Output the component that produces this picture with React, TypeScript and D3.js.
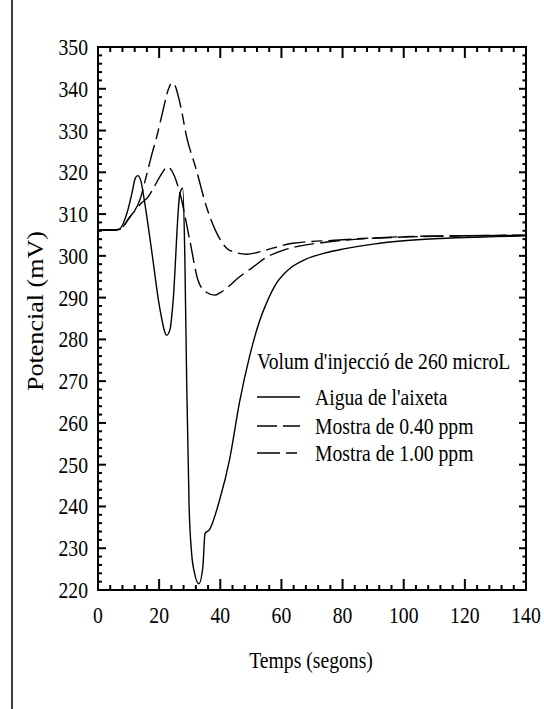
import React from "react";
import * as d3 from "d3";

// Axis tick values
const xTickLabels = [0, 20, 40, 60, 80, 100, 120, 140];
const yTickLabels = [220, 230, 240, 250, 260, 270, 280, 290, 300, 310, 320, 330, 340, 350];

// Aigua de l'aixeta (solid)
const aiguaTime = [0, 5, 7, 9.5, 11.1, 12.2, 13, 14, 15.3, 17.5, 20.2, 22.5, 23.6, 24.5, 26.8, 27.7, 28.4, 29, 29.8, 30.6, 31.6, 33, 34.3, 35, 36.5, 39.8, 43, 46.3, 49.6, 52.9, 55, 58, 62, 68, 75, 80, 90, 100, 110, 120, 130, 140];
const aiguaValue = [306.2, 306.2, 306.4, 310.3, 315, 318.6, 319.2, 318, 312.6, 301.5, 287.5, 281, 282.5, 288.5, 315, 316.2, 300, 270, 240, 229, 224, 221.5, 225.5, 233.5, 234.5, 241.6, 251.1, 265, 276, 284.5, 288.5, 293, 296.5, 299.2, 300.8, 301.6, 302.8, 303.6, 304.1, 304.4, 304.6, 304.8];

// Mostra de 0.40 ppm (dashed)
const mostra040Time = [0, 5, 7, 10.4, 14.3, 16.3, 18.2, 20.2, 22.8, 24, 26.8, 30, 32.7, 35, 38.2, 40, 42.5, 46, 50.7, 55, 60, 65, 75, 85, 100, 120, 140];
const mostra040Value = [306.2, 306.2, 306.3, 309.3, 312.7, 314, 316.3, 318.9, 321.3, 320.5, 315, 303.8, 294.2, 291.5, 290.6, 291.2, 292.5, 294.8, 297.3, 299.6, 301.2, 302.2, 303.3, 304, 304.5, 304.8, 304.9];

// Mostra de 1.00 ppm (long-short dash)
const mostra100Time = [0, 5, 7, 10.4, 13.7, 15.9, 17.5, 19.2, 21, 23, 24.1, 25, 26.8, 29, 32.2, 35.5, 38.8, 42, 45, 48.6, 52, 55, 63.7, 79, 90, 100, 120, 140];
const mostra100Value = [306.2, 306.2, 306.3, 309.3, 313.4, 319.4, 324, 328.5, 334, 339.8, 341.4, 341, 336.6, 328.5, 320.5, 311.7, 305.5, 301.9, 300.8, 300.4, 300.8, 301.4, 303, 303.8, 304.3, 304.6, 304.8, 305];

const legendTitle = "Volum d'injecció de 260 microL";
const seriesNames = ["Aigua de l'aixeta", "Mostra de 0.40 ppm", "Mostra de 1.00 ppm"];
const seriesDash = ["", "20,6", "23,6,11,6"];

const FONT = "'Liberation Serif', 'DejaVu Serif', serif";
const squeeze = (origin: string): React.CSSProperties => ({
  transformBox: "fill-box",
  transformOrigin: origin,
  transform: "scaleX(0.82)",
});

export default function App() {
  const W = 544;
  const H = 709;
  const left = 98, right = 526, top = 47, bottom = 590;

  const x = d3.scaleLinear().domain([0, 140]).range([left, right]);
  const y = d3.scaleLinear().domain([220, 350]).range([bottom, top]);

  const line = d3
    .line<[number, number]>()
    .x((d) => x(d[0]))
    .y((d) => y(d[1]))
    .curve(d3.curveMonotoneX);

  const series = [
    { t: aiguaTime, v: aiguaValue },
    { t: mostra040Time, v: mostra040Value },
    { t: mostra100Time, v: mostra100Value },
  ].map((s, i) => ({
    path: line(s.t.map((t, k) => [t, s.v[k]] as [number, number])) || "",
    dash: seriesDash[i],
    name: seriesNames[i],
  }));

  const xMinor = d3.range(0, 141, 4).filter((v) => v % 20 !== 0);
  const yMinor = d3.range(220, 351, 2).filter((v) => v % 10 !== 0);

  const legendX = 257;
  const legendRows = [397, 426, 453];

  return (
    <svg
      width={W}
      height={H}
      style={{ position: "absolute", left: 0, top: 0, background: "#fff" }}
      fontFamily={FONT}
    >
      <rect x={0} y={0} width={W} height={H} fill="#fff" />
      <line x1={12} x2={12} y1={0} y2={H} stroke="#000" strokeWidth={1.5} />

      {/* data lines */}
      {series.map((s, i) => (
        <path
          key={i}
          d={s.path}
          fill="none"
          stroke="#000"
          strokeWidth={1.4}
          strokeDasharray={s.dash || undefined}
        />
      ))}

      {/* frame */}
      <rect x={left} y={top} width={right - left} height={bottom - top} fill="none" stroke="#000" strokeWidth={2} />

      {/* x ticks, bottom and top, pointing inward */}
      {xTickLabels.map((v) => (
        <g key={"xM" + v}>
          <line x1={x(v)} x2={x(v)} y1={bottom} y2={bottom - 11} stroke="#000" strokeWidth={2} />
          <line x1={x(v)} x2={x(v)} y1={top} y2={top + 11} stroke="#000" strokeWidth={2} />
          <text x={x(v)} y={623} fontSize={24} textAnchor="middle" style={squeeze("center")}>
            {v}
          </text>
        </g>
      ))}
      {xMinor.map((v) => (
        <g key={"xm" + v}>
          <line x1={x(v)} x2={x(v)} y1={bottom} y2={bottom - 5} stroke="#000" strokeWidth={2} />
          <line x1={x(v)} x2={x(v)} y1={top} y2={top + 5} stroke="#000" strokeWidth={2} />
        </g>
      ))}

      {/* y ticks, left and right, pointing inward */}
      {yTickLabels.map((v) => (
        <g key={"yM" + v}>
          <line x1={left} x2={left + 8} y1={y(v)} y2={y(v)} stroke="#000" strokeWidth={2} />
          <line x1={right} x2={right - 7} y1={y(v)} y2={y(v)} stroke="#000" strokeWidth={2} />
          <text x={88} y={y(v) + 8} fontSize={24} textAnchor="end" style={squeeze("right center")}>
            {v}
          </text>
        </g>
      ))}
      {yMinor.map((v) => (
        <g key={"ym" + v}>
          <line x1={left} x2={left + 4} y1={y(v)} y2={y(v)} stroke="#000" strokeWidth={2} />
          <line x1={right} x2={right - 3.5} y1={y(v)} y2={y(v)} stroke="#000" strokeWidth={2} />
        </g>
      ))}

      {/* axis titles */}
      <text x={311} y={668} fontSize={24} textAnchor="middle" style={squeeze("center")}>
        Temps (segons)
      </text>
      <text
        transform="translate(43,311) rotate(-90)"
        fontSize={24}
        textAnchor="middle"
        textLength={160}
        lengthAdjust="spacingAndGlyphs"
      >
        Potencial (mV)
      </text>

      {/* legend */}
      <text x={legendX} y={369} fontSize={24} style={squeeze("left center")}>
        {legendTitle}
      </text>
      {series.map((s, i) => (
        <g key={"lg" + i}>
          <line
            x1={legendX}
            x2={legendX + 43}
            y1={legendRows[i]}
            y2={legendRows[i]}
            stroke="#000"
            strokeWidth={1.4}
            strokeDasharray={s.dash || undefined}
          />
          <text x={315} y={legendRows[i] + 8} fontSize={24} style={squeeze("left center")}>
            {s.name}
          </text>
        </g>
      ))}
    </svg>
  );
}
